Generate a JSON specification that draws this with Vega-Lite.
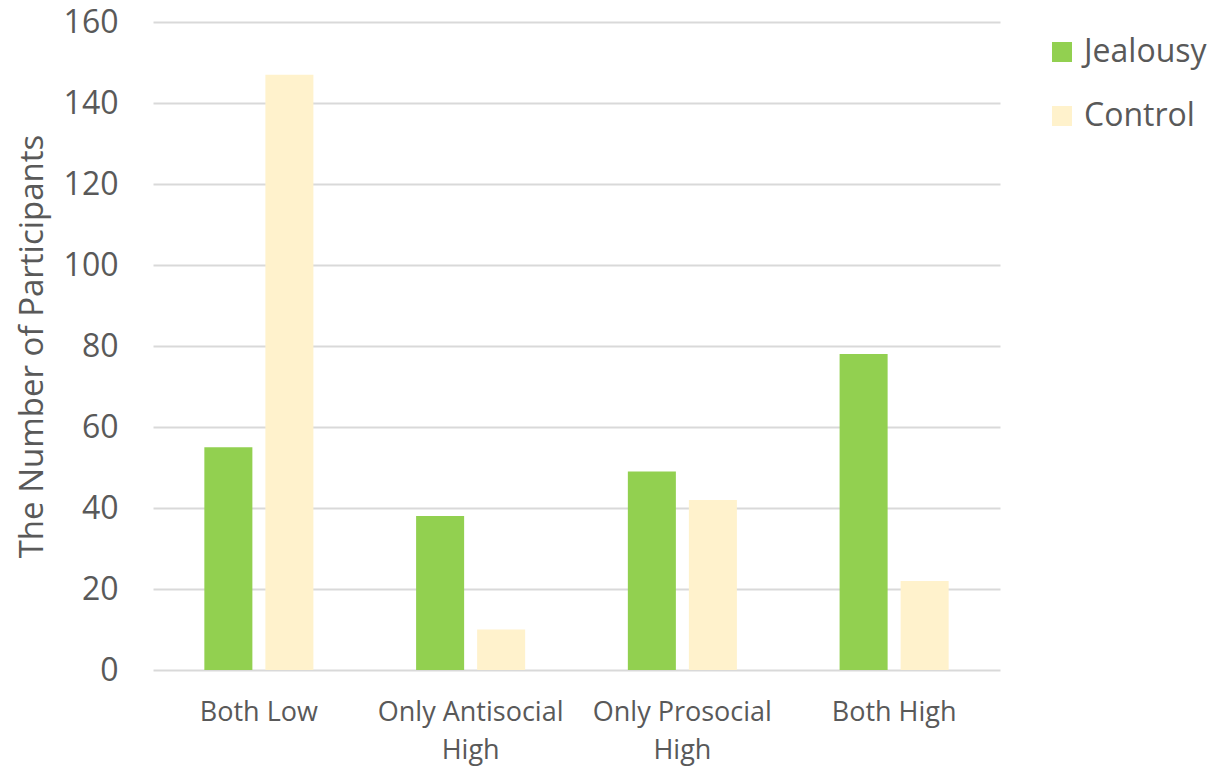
{
  "$schema": "https://vega.github.io/schema/vega-lite/v6.json",
  "width": 847,
  "height": 648,
  "autosize": {"type": "none"},
  "padding": {"left": 153, "top": 22, "right": 218, "bottom": 100},
  "background": "white",
  "config": {
    "view": {"stroke": null},
    "font": "Open Sans"
  },
  "data": {
    "values": [
      {"group": "Both Low", "condition": "Jealousy", "count": 55},
      {"group": "Both Low", "condition": "Control", "count": 147},
      {"group": "Only Antisocial High", "condition": "Jealousy", "count": 38},
      {"group": "Only Antisocial High", "condition": "Control", "count": 10},
      {"group": "Only Prosocial High", "condition": "Jealousy", "count": 49},
      {"group": "Only Prosocial High", "condition": "Control", "count": 42},
      {"group": "Both High", "condition": "Jealousy", "count": 78},
      {"group": "Both High", "condition": "Control", "count": 22}
    ]
  },
  "mark": {"type": "bar"},
  "encoding": {
    "x": {
      "field": "group",
      "type": "nominal",
      "sort": ["Both Low", "Only Antisocial High", "Only Prosocial High", "Both High"],
      "scale": {"paddingInner": 0.485, "paddingOuter": 0.2425},
      "axis": {
        "title": null,
        "labelAngle": 0,
        "labelFontSize": 27,
        "labelColor": "#595959",
        "labelPadding": 29,
        "labelLineHeight": 38,
        "labelBaseline": "top",
        "labelLimit": 0,
        "domain": false,
        "ticks": false,
        "labelExpr": "datum.value == 'Only Antisocial High' ? ['Only Antisocial', 'High'] : datum.value == 'Only Prosocial High' ? ['Only Prosocial', 'High'] : datum.value"
      }
    },
    "xOffset": {
      "field": "condition",
      "type": "nominal",
      "sort": ["Jealousy", "Control"],
      "scale": {"paddingInner": 0.213, "paddingOuter": 0}
    },
    "y": {
      "field": "count",
      "type": "quantitative",
      "scale": {"domain": [0, 160], "nice": false},
      "axis": {
        "title": "The Number of Participants",
        "titleFontSize": 33,
        "titleFontWeight": "normal",
        "titleColor": "#595959",
        "titlePadding": 14,
        "values": [0, 20, 40, 60, 80, 100, 120, 140, 160],
        "labelFontSize": 32,
        "labelColor": "#595959",
        "labelPadding": 35,
        "domain": false,
        "ticks": false,
        "gridColor": "#D9D9D9",
        "gridWidth": 2
      }
    },
    "color": {
      "field": "condition",
      "type": "nominal",
      "sort": ["Jealousy", "Control"],
      "scale": {"domain": ["Jealousy", "Control"], "range": ["#92D050", "#FFF2CC"]},
      "legend": {
        "title": null,
        "orient": "none",
        "legendX": 893,
        "legendY": 14,
        "symbolType": "square",
        "symbolSize": 400,
        "symbolStrokeWidth": 0,
        "labelFontSize": 32,
        "labelColor": "#595959",
        "labelOffset": 6,
        "rowPadding": 32
      }
    }
  }
}
